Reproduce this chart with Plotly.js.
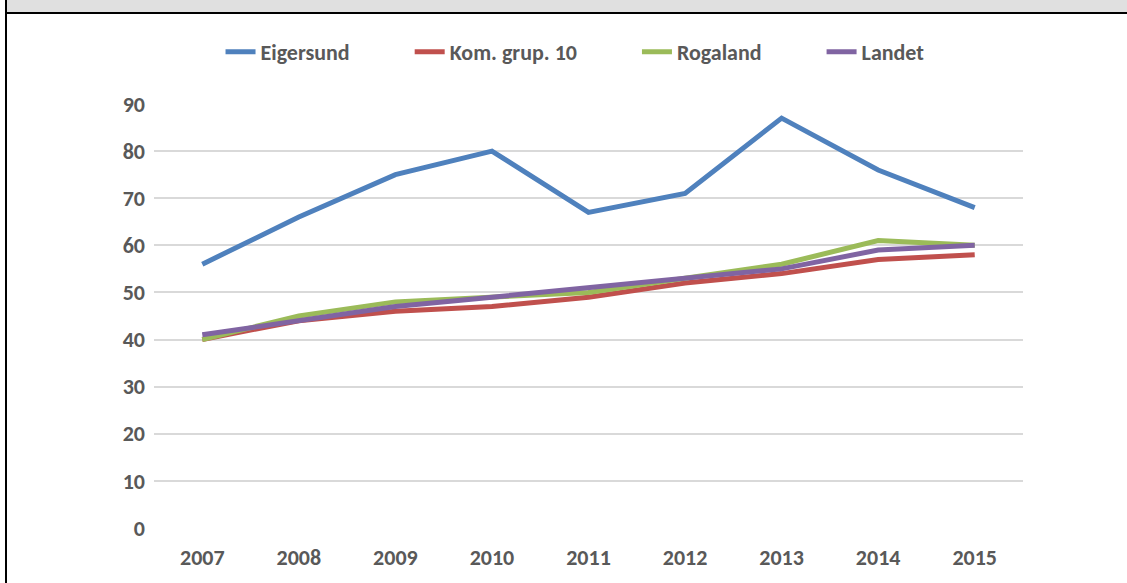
<!DOCTYPE html>
<html>
<head>
<meta charset="utf-8">
<script src="https://cdn.plot.ly/plotly-3.0.1.min.js"></script>
<style>
  html, body { margin: 0; padding: 0; background: #fff; }
  body { width: 1127px; height: 583px; position: relative; overflow: hidden; }
  #band { position: absolute; left: 5px; top: 0; width: 1122px; height: 12px; background: #e0e0e0; }
  #rule { position: absolute; left: 5px; top: 12px; width: 1122px; height: 2px; background: #000; }
  #edge { position: absolute; left: 5px; top: 0; width: 2px; height: 583px; background: #000; }
  #chart { position: absolute; left: 0; top: 0; width: 1127px; height: 583px; }
</style>
</head>
<body>
<div id="chart"></div>
<div id="band"></div>
<div id="rule"></div>
<div id="edge"></div>
<script>
// Chart data
const years = ["2007", "2008", "2009", "2010", "2011", "2012", "2013", "2014", "2015"];
const eigersund = [56, 66, 75, 80, 67, 71, 87, 76, 68];
const komGrup10 = [40, 44, 46, 47, 49, 52, 54, 57, 58];
const rogaland = [40, 45, 48, 49, 50, 53, 56, 61, 60];
const landet = [41, 44, 47, 49, 51, 53, 55, 59, 60];
const yTicks = [0, 10, 20, 30, 40, 50, 60, 70, 80, 90];

const FONT = "Carlito, Calibri, Lato, 'Open Sans', sans-serif";
const TEXT = "#595959";
const SIZE = 22;
// trailing room so the legend entries spread like the original
const PAD = "\u2003\u2003\u2002";

function series(name, values, color, pad) {
  return {
    type: "scatter",
    mode: "lines",
    name: name + pad,
    x: years,
    y: values,
    line: { color: color, width: 5, shape: "linear" },
    hoverinfo: "skip",
  };
}

const traces = [
  series("Eigersund", eigersund, "#4F81BD", PAD),
  series("Kom. grup. 10", komGrup10, "#C0504D", PAD),
  series("Rogaland", rogaland, "#9BBB59", PAD),
  series("Landet", landet, "#8064A2", ""),
];

const layout = {
  width: 1127,
  height: 583,
  margin: { l: 154, r: 104, t: 104, b: 55, pad: 0 },
  paper_bgcolor: "#ffffff",
  plot_bgcolor: "#ffffff",
  font: { family: FONT, size: SIZE, color: TEXT, weight: "bold" },
  showlegend: true,
  legend: {
    orientation: "h",
    x: 0.4845, xanchor: "center",
    y: 1.123, yanchor: "middle",
    font: { family: FONT, size: SIZE, color: TEXT, weight: "bold" },
    itemwidth: 30,
    traceorder: "normal",
  },
  xaxis: {
    type: "category",
    categoryorder: "array",
    categoryarray: years,
    range: [-0.5, years.length - 0.5],
    showgrid: false,
    zeroline: false,
    showline: false,
    ticks: "",
    ticklabelstandoff: 14,
    tickfont: { family: FONT, size: SIZE, color: TEXT, weight: "bold" },
    fixedrange: true,
  },
  yaxis: {
    range: [0, 90],
    tickmode: "array",
    tickvals: yTicks,
    ticktext: yTicks.map(String),
    showgrid: true,
    gridcolor: "#d9d9d9",
    gridwidth: 2,
    zeroline: false,
    showline: false,
    ticks: "",
    ticklabelstandoff: 8,
    tickfont: { family: FONT, size: SIZE, color: TEXT, weight: "bold" },
    fixedrange: true,
  },
};

Plotly.newPlot("chart", traces, layout, { displayModeBar: false, staticPlot: true });
</script>
</body>
</html>
